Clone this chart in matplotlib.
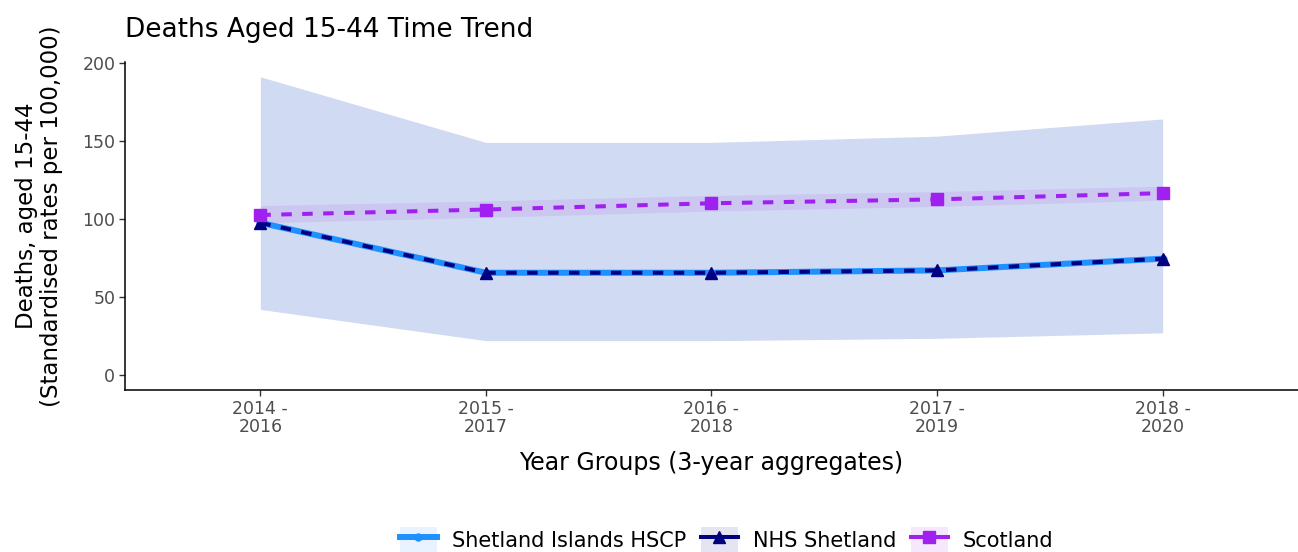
import matplotlib
matplotlib.use("Agg")
import matplotlib.pyplot as plt
from matplotlib.lines import Line2D
from matplotlib.patches import Patch

plt.rcParams["font.family"] = ["DejaVu Sans"]

# Year groups (3-year aggregates)
year_groups = ["2014 -\n2016", "2015 -\n2017", "2016 -\n2018", "2017 -\n2019", "2018 -\n2020"]

# Standardised death rates, aged 15-44, per 100,000
shetland_hscp = [97.5, 65.5, 65.5, 67.0, 74.5]
shetland_hscp_lower = [42.0, 22.0, 22.0, 23.5, 27.0]
shetland_hscp_upper = [191.0, 149.0, 149.0, 153.0, 164.0]

nhs_shetland = [97.5, 65.5, 65.5, 67.0, 74.5]
nhs_shetland_lower = [42.0, 22.0, 22.0, 23.5, 27.0]
nhs_shetland_upper = [191.0, 149.0, 149.0, 153.0, 164.0]

scotland = [102.5, 106.0, 110.0, 112.5, 116.5]
scotland_lower = [97.5, 101.0, 105.0, 108.0, 112.0]
scotland_upper = [108.5, 111.5, 115.0, 117.5, 121.0]

c_hscp = "#1E90FF"
c_nhs = "#000080"
c_scot = "#A020F0"
band_alpha = 0.1
dash = (0, (2.6, 2.6))

fig = plt.figure(figsize=(12.98, 5.52), dpi=100)
ax = fig.add_axes([0.0963, 0.2935, 0.9037, 0.5942])

x = list(range(len(year_groups)))

ax.fill_between(x, shetland_hscp_lower, shetland_hscp_upper, color=c_hscp, alpha=band_alpha, lw=0)
ax.fill_between(x, nhs_shetland_lower, nhs_shetland_upper, color=c_nhs, alpha=band_alpha, lw=0)
ax.fill_between(x, scotland_lower, scotland_upper, color=c_scot, alpha=band_alpha, lw=0)

ax.plot(x, shetland_hscp, color=c_hscp, lw=4.3, marker="o", ms=5, zorder=3)
ax.plot(x, nhs_shetland, color=c_nhs, lw=2.9, ls=dash, marker="^", ms=9, zorder=4)
ax.plot(x, scotland, color=c_scot, lw=2.9, ls=dash, marker="s", ms=9, zorder=4)

ax.set_xlim(-0.6, 4.6)
ax.set_ylim(-9.6, 200.5)
ax.set_xticks(x)
ax.set_xticklabels(year_groups, linespacing=1.0)
ax.set_yticks([0, 50, 100, 150, 200])

for side in ("top", "right"):
    ax.spines[side].set_visible(False)
for side in ("left", "bottom"):
    ax.spines[side].set_linewidth(1.1)
    ax.spines[side].set_color("black")
ax.tick_params(axis="both", colors="#333333", labelcolor="#4d4d4d", labelsize=12.5,
               length=4, width=1.0, pad=3)

ax.set_xlabel("Year Groups (3-year aggregates)", fontsize=17, labelpad=11)
ax.set_ylabel("Deaths, aged 15-44\n(Standardised rates per 100,000)", fontsize=16.5,
              labelpad=10, linespacing=1.1)
ax.yaxis.set_label_coords(-0.053, 0.53)
ax.set_title("Deaths Aged 15-44 Time Trend", fontsize=19, loc="left", pad=18, x=0.0)

handles = [
    (Patch(facecolor=c_hscp, alpha=band_alpha, lw=0),
     Line2D([], [], color=c_hscp, lw=4.3, marker="o", ms=5)),
    (Patch(facecolor=c_nhs, alpha=band_alpha, lw=0),
     Line2D([], [], color=c_nhs, lw=2.9, marker="^", ms=9)),
    (Patch(facecolor=c_scot, alpha=band_alpha, lw=0),
     Line2D([], [], color=c_scot, lw=2.9, marker="s", ms=9)),
]
labels = ["Shetland Islands HSCP", "NHS Shetland", "Scotland"]
fig.legend(handles, labels, loc="lower center", bbox_to_anchor=(0.5597, -0.022), ncol=3,
           frameon=False, fontsize=15, handlelength=1.8, handleheight=1.6,
           columnspacing=0.7, handletextpad=0.7, borderpad=0)

fig.savefig("out.png", dpi=100)
